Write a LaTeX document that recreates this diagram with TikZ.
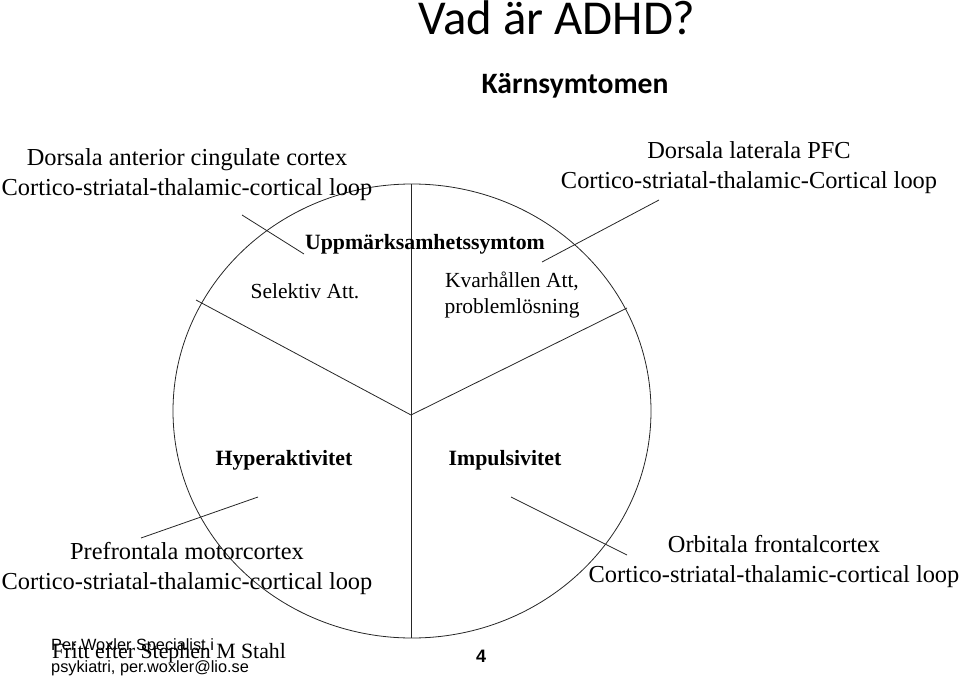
\documentclass[tikz,border=0pt]{standalone}
\usepackage{fontspec}
\usetikzlibrary{shapes.geometric}
\setmainfont{Liberation Serif}
\newfontfamily\titlefont{Carlito}
\newfontfamily\footfont{Liberation Sans}
\begin{document}
\begin{tikzpicture}[x=1pt,y=-1pt,
 lab/.style={inner sep=0pt,align=center,font=\fontsize{24.4}{30}\selectfont},
 bl/.style={inner sep=0pt,font=\fontsize{21.8}{26}\selectfont\bfseries},
 sm/.style={inner sep=0pt,align=center,font=\fontsize{21.5}{26}\selectfont},
 ln/.style={draw=black!85,line width=0.8pt}]
\useasboundingbox (0,0) rectangle (960,676);
\coordinate (c) at (411,415);
\node[ln,ellipse,minimum width=478pt,minimum height=454pt,inner sep=0pt] (circ) at (412,411) {};
\coordinate (top) at (411,184);
\coordinate (lf) at (196,300);
\coordinate (rt) at (627,308);
\coordinate (bt) at (411,638);
\draw[ln] (c) -- (top);
\draw[ln] (c) -- (lf);
\draw[ln] (c) -- (rt);
\draw[ln] (c) -- (bt);
\node[font=\titlefont\fontsize{48.7}{56}\selectfont,inner sep=0pt] (t1) at (557,18) {Vad är ADHD?};
\node[font=\titlefont\bfseries\fontsize{29.6}{34}\selectfont,inner sep=0pt] (t2) at (575,86) {Kärnsymtomen};
\node[lab] (a) at (187,175) {Dorsala anterior cingulate cortex\\Cortico-striatal-thalamic-cortical loop};
\node[lab] (b) at (749,168) {Dorsala laterala PFC\\Cortico-striatal-thalamic-Cortical loop};
\node[lab] (d) at (187,569) {Prefrontala motorcortex\\Cortico-striatal-thalamic-cortical loop};
\node[lab] (e) at (774,562) {Orbitala frontalcortex\\Cortico-striatal-thalamic-cortical loop};
\node[bl] (u) at (425,244) {Uppmärksamhetssymtom};
\node[sm] (s) at (305,291) {Selektiv Att.};
\node[sm] (k) at (512,295) {Kvarhållen Att,\\problemlösning};
\node[bl] (h) at (284,460) {Hyperaktivitet};
\node[bl] (i) at (505,460) {Impulsivitet};
\coordinate (a1) at (242,215);
\coordinate (a2) at (304,254);
\coordinate (b1) at (659,200);
\coordinate (b2) at (542,262);
\coordinate (d1) at (141,538);
\coordinate (d2) at (258,497);
\coordinate (e1) at (627,555);
\coordinate (e2) at (511,497);
\draw[ln] (a1) -- (a2);
\draw[ln] (b1) -- (b2);
\draw[ln] (d1) -- (d2);
\draw[ln] (e1) -- (e2);
\node[anchor=west,font=\fontsize{21.8}{24}\selectfont,inner sep=0pt] (f) at (52,653) {Fritt efter Stephen M Stahl};
\node[anchor=north west,align=left,font=\footfont\fontsize{16.3}{22}\selectfont,inner sep=0pt] (g) at (51,638) {Per Woxler Specialist i\\psykiatri, per.woxler@lio.se};
\node[font=\footfont\bfseries\fontsize{18}{20}\selectfont,inner sep=0pt] (n) at (481,656) {4};
\end{tikzpicture}
\end{document}
